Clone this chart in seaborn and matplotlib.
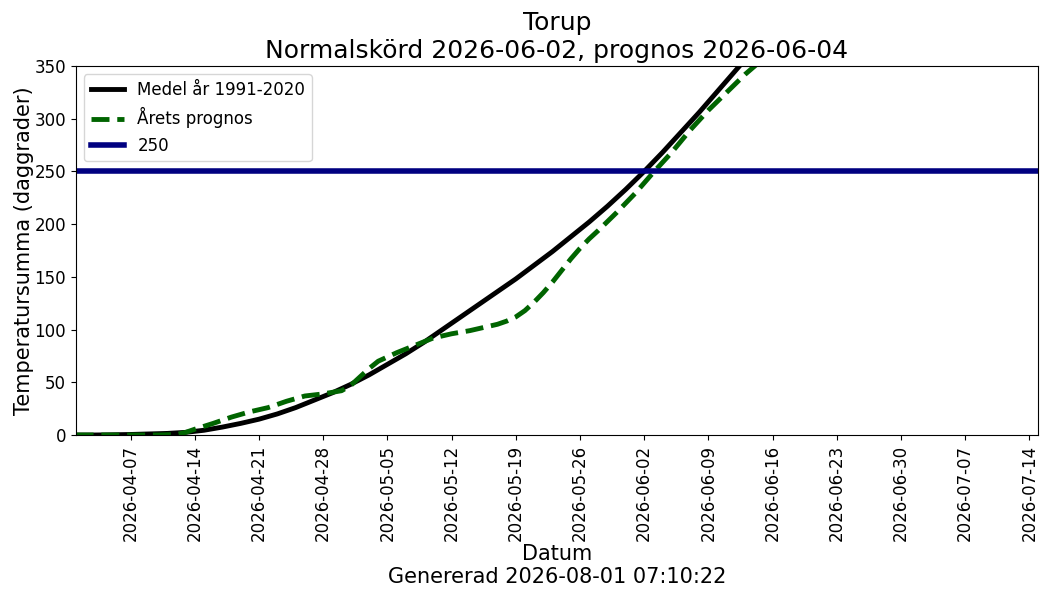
"""Temperature sum chart for Torup: normal year vs this year's forecast."""

import matplotlib

matplotlib.use("Agg")
import matplotlib.dates as mdates
import matplotlib.pyplot as plt
import pandas as pd
import seaborn as sns

# Mean 1991-2020 (daggrader), every other day
normal_dates = [
    "2026-04-01", "2026-04-03", "2026-04-05", "2026-04-07", "2026-04-09",
    "2026-04-11", "2026-04-13", "2026-04-15", "2026-04-17", "2026-04-19",
    "2026-04-21", "2026-04-23", "2026-04-25", "2026-04-27", "2026-04-29",
    "2026-05-01", "2026-05-03", "2026-05-05", "2026-05-07", "2026-05-09",
    "2026-05-11", "2026-05-13", "2026-05-15", "2026-05-17", "2026-05-19",
    "2026-05-21", "2026-05-23", "2026-05-25", "2026-05-27", "2026-05-29",
    "2026-05-31", "2026-06-02", "2026-06-04", "2026-06-06", "2026-06-08",
    "2026-06-10", "2026-06-12", "2026-06-14", "2026-06-16", "2026-06-18",
]
normal_values = [
    0, 0, 0.2, 0.5, 1,
    1.5, 2.5, 4.5, 7.5, 11,
    15, 20, 26, 33, 40,
    48, 57, 67, 77, 88,
    100, 112, 124, 136, 148,
    161, 174, 188, 202, 217,
    233, 250, 268, 287, 306,
    326, 346, 366, 386, 406,
]

# This year's forecast
forecast_dates = [
    "2026-04-01", "2026-04-04", "2026-04-07", "2026-04-10", "2026-04-12",
    "2026-04-13", "2026-04-14", "2026-04-16", "2026-04-18", "2026-04-20",
    "2026-04-22", "2026-04-24", "2026-04-26", "2026-04-28", "2026-04-30",
    "2026-05-01", "2026-05-02", "2026-05-03", "2026-05-04", "2026-05-06",
    "2026-05-08", "2026-05-10", "2026-05-12", "2026-05-14", "2026-05-16",
    "2026-05-17", "2026-05-18", "2026-05-19", "2026-05-20", "2026-05-21",
    "2026-05-22", "2026-05-23", "2026-05-24", "2026-05-25", "2026-05-26",
    "2026-05-27", "2026-05-28", "2026-05-30", "2026-06-01", "2026-06-03",
    "2026-06-05", "2026-06-07", "2026-06-09", "2026-06-11", "2026-06-13",
    "2026-06-15", "2026-06-17",
]
forecast_values = [
    0, 0, 0, 0, 0.5,
    2.5, 5.5, 11, 17, 22,
    26, 32, 37, 39, 42,
    47, 55, 63, 70, 78,
    85, 92, 96, 99, 103,
    105, 108, 112, 118, 126,
    135, 145, 156, 167, 177,
    186, 194, 211, 229, 249,
    268, 289, 308, 325, 342,
    357, 372,
]

threshold = 250
station = "Torup"
normal_harvest = "2026-06-02"
forecast_date = "2026-06-04"
generated = "2026-08-01 07:10:22"


def main() -> None:
    normal_df = pd.DataFrame({"datum": pd.to_datetime(normal_dates), "summa": normal_values})
    forecast_df = pd.DataFrame({"datum": pd.to_datetime(forecast_dates), "summa": forecast_values})

    fig, ax = plt.subplots(figsize=(10.5, 6), dpi=100)
    fig.subplots_adjust(left=0.072, right=0.989, top=0.89, bottom=0.275)

    sns.lineplot(data=normal_df, x="datum", y="summa", color="black", linewidth=3.5,
                 label="Medel år 1991-2020", ax=ax)
    sns.lineplot(data=forecast_df, x="datum", y="summa", color="darkgreen", linewidth=3.5,
                 linestyle="--", label="Årets prognos", ax=ax)
    ax.axhline(threshold, color="navy", linewidth=4, label=str(threshold))

    ax.set_xlim(pd.Timestamp("2026-04-01"), pd.Timestamp("2026-07-15"))
    ax.set_ylim(0, 350)
    ticks = pd.date_range("2026-04-07", "2026-07-14", freq="7D")
    ax.set_xticks(ticks)
    ax.xaxis.set_major_formatter(mdates.DateFormatter("%Y-%m-%d"))
    ax.tick_params(axis="x", labelrotation=90, labelsize=12)
    ax.tick_params(axis="y", labelsize=12)

    ax.set_title(f"{station}\nNormalskörd {normal_harvest}, prognos {forecast_date}", fontsize=18)
    ax.set_xlabel(f"Datum\nGenererad {generated}", fontsize=15, labelpad=2)
    ax.set_ylabel("Temperatursumma (daggrader)", fontsize=15, labelpad=0)
    ax.legend(loc="upper left", fontsize=12)

    fig.savefig("out.png", dpi=100)
    plt.close(fig)


if __name__ == "__main__":
    main()
